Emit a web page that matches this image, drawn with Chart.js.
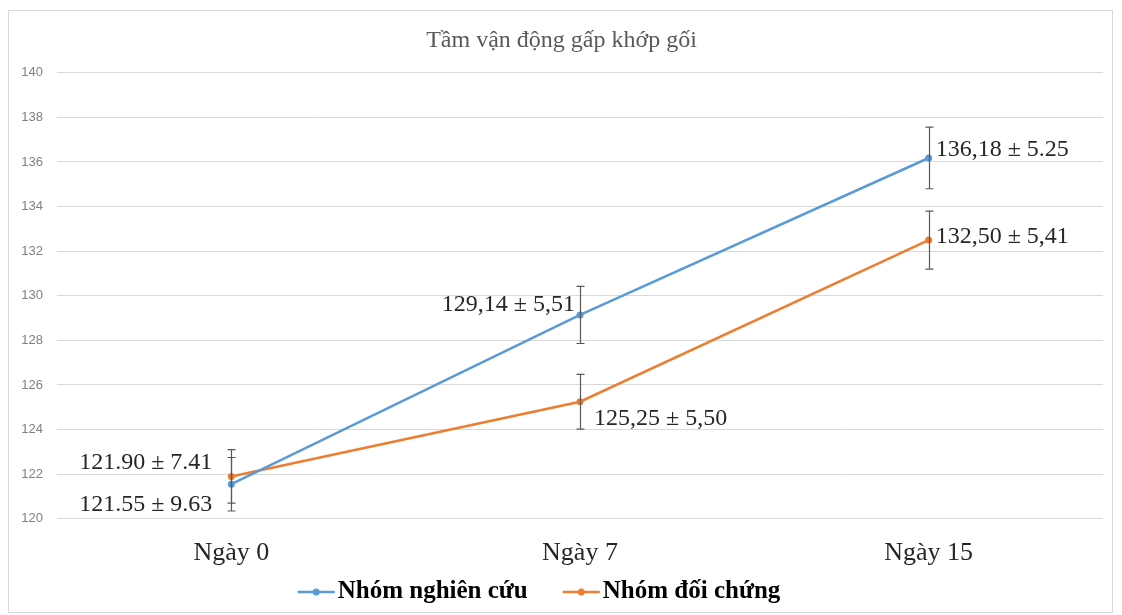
<!DOCTYPE html>
<html>
<head>
<meta charset="utf-8">
<script src="https://cdn.jsdelivr.net/npm/chart.js@4"></script>
<style>
  html, body { margin: 0; padding: 0; background: #fff; }
  #wrap { width: 1122px; height: 615px; }
</style>
</head>
<body>
<div id="wrap"><canvas id="chart"></canvas></div>
<script>
const categories = ['Ngày 0', 'Ngày 7', 'Ngày 15']
const nghienCuu = [121.55, 129.14, 136.18]
const doiChung = [121.90, 125.25, 132.50]
// error bar half-lengths
const nghienCuuErr = [1.2, 1.28, 1.38]
const doiChungErr = [1.2, 1.23, 1.3]
const nghienCuuLabels = ['121.55 ± 9.63', '129,14 ± 5,51', '136,18 ± 5.25']
const doiChungLabels = ['121.90 ± 7.41', '125,25 ± 5,50', '132,50 ± 5,41']
const yMin = 120, yMax = 140, yStep = 2

const BLUE = '#5b9bd5'
const ORANGE = '#ed7d31'
const SERIF = '"Liberation Serif", "Times New Roman", serif'

// frame + white background
const frame = {
  id: 'frame',
  beforeDraw(chart) {
    const ctx = chart.ctx
    ctx.save()
    ctx.fillStyle = '#fff'
    ctx.fillRect(0, 0, chart.width, chart.height)
    ctx.strokeStyle = '#d9d9d9'
    ctx.lineWidth = 1
    ctx.strokeRect(8.5, 10.5, 1104, 602)
    ctx.restore()
  }
}

const errorBars = {
  id: 'errorBars',
  afterDatasetsDraw(chart) {
    const ctx = chart.ctx
    const y = chart.scales.y
    ctx.save()
    ctx.strokeStyle = '#595959'
    ctx.lineWidth = 1.2
    chart.data.datasets.forEach((ds, i) => {
      const meta = chart.getDatasetMeta(i)
      meta.data.forEach((pt, j) => {
        const top = y.getPixelForValue(ds.data[j] + ds.errors[j])
        const bot = y.getPixelForValue(ds.data[j] - ds.errors[j])
        const x = Math.round(pt.x) + 0.5
        ctx.beginPath()
        ctx.moveTo(x, top); ctx.lineTo(x, bot)
        ctx.moveTo(x - 4, top); ctx.lineTo(x + 4, top)
        ctx.moveTo(x - 4, bot); ctx.lineTo(x + 4, bot)
        ctx.stroke()
      })
    })
    ctx.restore()
  }
}

// label placement per dataset / point
const labelPlace = [
  [{ align: 'right', dx: -19, dy: 20 }, { align: 'right', dx: -5, dy: -10 }, { align: 'left', dx: 7, dy: -8 }],
  [{ align: 'right', dx: -19, dy: -14 }, { align: 'left', dx: 14, dy: 17 }, { align: 'left', dx: 7, dy: -3 }]
]

const valueLabels = {
  id: 'valueLabels',
  afterDatasetsDraw(chart) {
    const ctx = chart.ctx
    ctx.save()
    ctx.font = '24px ' + SERIF
    ctx.fillStyle = '#262626'
    ctx.textBaseline = 'middle'
    chart.data.datasets.forEach((ds, i) => {
      const meta = chart.getDatasetMeta(i)
      meta.data.forEach((pt, j) => {
        const p = labelPlace[i][j]
        ctx.textAlign = p.align
        ctx.fillText(ds.labels[j], pt.x + p.dx, pt.y + p.dy)
      })
    })
    ctx.restore()
  }
}

// legend drawn by hand (line + dot marker, bold serif text)
const bottomLegend = {
  id: 'bottomLegend',
  afterDraw(chart) {
    const ctx = chart.ctx
    const markW = 37, markGap = 3, itemGap = 35
    const cx = 539, cy = 592
    ctx.save()
    ctx.font = 'bold 25px ' + SERIF
    ctx.textBaseline = 'middle'
    const items = chart.data.datasets.map(ds => ({
      text: ds.label, color: ds.borderColor, w: ctx.measureText(ds.label).width
    }))
    const total = items.reduce((s, it) => s + markW + markGap + it.w, 0) + itemGap * (items.length - 1)
    let x = cx - total / 2
    items.forEach(it => {
      ctx.strokeStyle = it.color
      ctx.lineWidth = 2.5
      ctx.beginPath(); ctx.moveTo(x, cy); ctx.lineTo(x + markW, cy); ctx.stroke()
      ctx.fillStyle = it.color
      ctx.beginPath(); ctx.arc(x + markW / 2, cy, 3.5, 0, Math.PI * 2); ctx.fill()
      ctx.fillStyle = '#000'
      ctx.textAlign = 'left'
      ctx.fillText(it.text, x + markW + markGap, cy)
      x += markW + markGap + it.w + itemGap
    })
    ctx.restore()
  }
}

new Chart(document.getElementById('chart'), {
  type: 'line',
  data: {
    labels: categories,
    datasets: [
      {
        label: 'Nhóm nghiên cứu',
        data: nghienCuu,
        errors: nghienCuuErr,
        labels: nghienCuuLabels,
        borderColor: BLUE,
        backgroundColor: BLUE,
        pointBackgroundColor: BLUE,
        borderWidth: 2.5,
        pointRadius: 3.5,
        pointBorderWidth: 0,
        tension: 0
      },
      {
        label: 'Nhóm đối chứng',
        data: doiChung,
        errors: doiChungErr,
        labels: doiChungLabels,
        borderColor: ORANGE,
        backgroundColor: ORANGE,
        pointBackgroundColor: ORANGE,
        borderWidth: 2.5,
        pointRadius: 3.5,
        pointBorderWidth: 0,
        tension: 0
      }
    ]
  },
  options: {
    responsive: true,
    maintainAspectRatio: false,
    animation: false,
    layout: { padding: { left: 20, right: 19, top: 0, bottom: 35 } },
    scales: {
      x: {
        offset: true,
        grid: { display: false },
        border: { display: false },
        ticks: {
          padding: 11,
          color: '#262626',
          font: { family: SERIF, size: 26 }
        }
      },
      y: {
        min: yMin,
        max: yMax,
        afterFit(scale) { scale.width = 37 },
        grid: { color: '#d9d9d9', drawTicks: false, lineWidth: 1 },
        border: { display: false },
        ticks: {
          stepSize: yStep,
          padding: 14,
          color: '#808080',
          font: { family: '"Liberation Sans", Arial, sans-serif', size: 13 }
        }
      }
    },
    plugins: {
      title: {
        display: true,
        text: 'Tầm vận động gấp khớp gối',
        color: '#595959',
        font: { family: SERIF, size: 24, weight: 'normal' },
        padding: { top: 26, bottom: 18 }
      },
      legend: { display: false },
      tooltip: { enabled: false }
    }
  },
  plugins: [frame, errorBars, valueLabels, bottomLegend]
})
</script>
</body>
</html>
